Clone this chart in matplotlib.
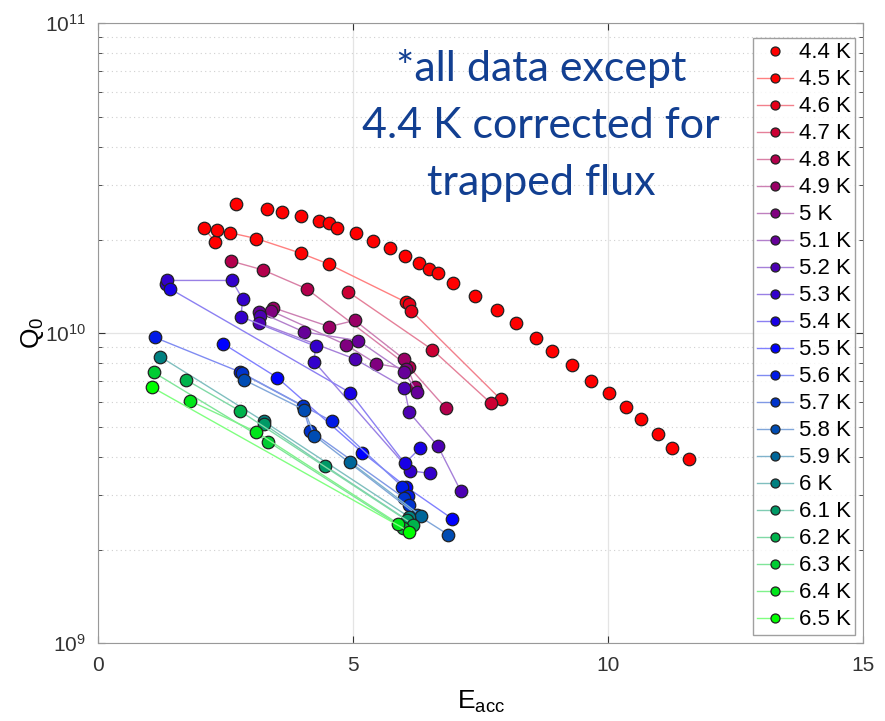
import matplotlib
matplotlib.use("Agg")
import matplotlib.pyplot as plt
import numpy as np

plt.rcParams['font.family'] = ['Liberation Sans', 'DejaVu Sans']

temps = [4.4, 4.5, 4.6, 4.7, 4.8, 4.9, 5.0, 5.1, 5.2, 5.3, 5.4,
         5.5, 5.6, 5.7, 5.8, 5.9, 6.0, 6.1, 6.2, 6.3, 6.4, 6.5]
labels = ['4.4 K', '4.5 K', '4.6 K', '4.7 K', '4.8 K', '4.9 K', '5 K', '5.1 K',
          '5.2 K', '5.3 K', '5.4 K', '5.5 K', '5.6 K', '5.7 K', '5.8 K', '5.9 K',
          '6 K', '6.1 K', '6.2 K', '6.3 K', '6.4 K', '6.5 K']

# 4.4 K (not flux corrected), markers only
E_44 = [2.71, 3.31, 3.61, 3.97, 4.33, 4.53, 4.68, 5.05, 5.39, 5.72, 6.01, 6.29, 6.49, 6.66,
        6.96, 7.39, 7.81, 8.20, 8.59, 8.90, 9.28, 9.66, 10.01, 10.35, 10.64, 10.98, 11.24, 11.59]
Q_44 = [2.61e10, 2.52e10, 2.46e10, 2.39e10, 2.31e10, 2.26e10, 2.19e10, 2.10e10, 1.99e10,
        1.88e10, 1.78e10, 1.69e10, 1.61e10, 1.56e10, 1.45e10, 1.32e10, 1.19e10, 1.08e10,
        9.67e9, 8.75e9, 7.90e9, 7.03e9, 6.40e9, 5.78e9, 5.28e9, 4.73e9, 4.27e9, 3.93e9]

E_45 = [2.07, 2.29, 2.33, 2.58, 3.10, 3.98, 4.52, 6.03]
Q_45 = [2.19e10, 1.97e10, 2.15e10, 2.11e10, 2.02e10, 1.81e10, 1.67e10, 1.26e10]
E_46 = [6.09, 6.14, 7.89]
Q_46 = [1.24e10, 1.18e10, 6.12e9]
E_47 = [4.90, 6.55, 7.70]
Q_47 = [1.36e10, 8.85e9, 5.94e9]
E_48 = [2.60, 3.23, 4.09, 6.09, 6.81]
Q_48 = [1.71e10, 1.60e10, 1.39e10, 7.80e9, 5.74e9]
E_49 = [3.42, 4.53, 5.03, 6.00, 6.21]
Q_49 = [1.21e10, 1.05e10, 1.10e10, 8.24e9, 6.73e9]
E_50 = [3.39, 4.86, 5.45, 6.03]
Q_50 = [1.18e10, 9.17e9, 7.98e9, 7.67e9]
E_51 = [3.16, 4.03, 5.10, 6.00, 6.25]
Q_51 = [1.17e10, 1.01e10, 9.46e9, 7.48e9, 6.48e9]
E_52 = [3.18, 3.16, 5.03, 6.00, 6.10, 6.66, 7.11]
Q_52 = [1.14e10, 1.08e10, 8.26e9, 6.68e9, 5.55e9, 4.32e9, 3.09e9]
E_53 = [1.33, 1.35, 2.62, 2.83, 2.80, 4.26, 4.23, 6.11, 6.50]
Q_53 = [1.44e10, 1.48e10, 1.48e10, 1.29e10, 1.13e10, 9.08e9, 8.10e9, 3.60e9, 3.53e9]
E_54 = [1.41, 4.94, 6.01, 6.31]
Q_54 = [1.39e10, 6.43e9, 3.80e9, 4.26e9]
E_55 = [2.45, 3.51, 5.18, 6.03, 6.94]
Q_55 = [9.25e9, 7.19e9, 4.12e9, 3.20e9, 2.52e9]
E_56 = [1.11, 2.77, 4.58, 5.96, 6.07]
Q_56 = [9.69e9, 7.51e9, 5.20e9, 3.20e9, 2.99e9]
E_57 = [2.81, 4.01, 4.15, 6.00, 6.09]
Q_57 = [7.43e9, 5.82e9, 4.85e9, 2.94e9, 2.79e9]
E_58 = [2.86, 4.04, 4.24, 6.24, 6.86]
Q_58 = [7.07e9, 5.66e9, 4.67e9, 2.60e9, 2.24e9]
E_59 = [4.93, 6.32]
Q_59 = [3.85e9, 2.58e9]
E_60 = [1.21, 3.25, 6.10]
Q_60 = [8.41e9, 5.19e9, 2.55e9]
E_61 = [3.25, 4.45, 6.05]
Q_61 = [5.09e9, 3.73e9, 2.50e9]
E_62 = [1.73, 2.78, 6.18]
Q_62 = [7.06e9, 5.61e9, 2.41e9]
E_63 = [1.09, 3.33, 5.98]
Q_63 = [7.47e9, 4.47e9, 2.35e9]
E_64 = [1.80, 3.09, 5.88]
Q_64 = [6.05e9, 4.81e9, 2.43e9]
E_65 = [1.05, 6.10]
Q_65 = [6.70e9, 2.29e9]

E_all = [E_44, E_45, E_46, E_47, E_48, E_49, E_50, E_51, E_52, E_53, E_54,
         E_55, E_56, E_57, E_58, E_59, E_60, E_61, E_62, E_63, E_64, E_65]
Q_all = [Q_44, Q_45, Q_46, Q_47, Q_48, Q_49, Q_50, Q_51, Q_52, Q_53, Q_54,
         Q_55, Q_56, Q_57, Q_58, Q_59, Q_60, Q_61, Q_62, Q_63, Q_64, Q_65]


def temp_color(t):
    # red -> blue between 4.5 and 5.5 K, blue -> green between 5.5 and 6.5 K
    if t <= 4.5:
        return (1.0, 0.0, 0.0)
    if t <= 5.5:
        f = t - 4.5
        return (1.0 - f, 0.0, f)
    f = min(t - 5.5, 1.0)
    return (0.0, f, 1.0 - f)


def lighten(c, amt=0.5):
    return tuple(x + (1 - x) * amt for x in c)


fig = plt.figure(figsize=(8.85, 7.21), dpi=100)
ax = fig.add_axes([0.111, 0.108, 0.8645, 0.8597])

for i, t in enumerate(temps):
    c = temp_color(t)
    if i == 0:
        ax.plot(E_all[i], Q_all[i], linestyle='none', marker='o', ms=9,
                mfc=c, mec='#222222', mew=0.9, label=labels[i], zorder=3)
    else:
        ax.plot(E_all[i], Q_all[i], '-', color=lighten(c, 0.5), lw=1.0, marker='o',
                ms=9, mfc=c, mec='#222222', mew=0.9, label=labels[i], zorder=3)

ax.set_yscale('log')
ax.set_xlim(0, 15)
ax.set_ylim(1e9, 1e11)
ax.set_xticks([0, 5, 10, 15])
ax.grid(True, which='major', color='#e4e4e4', lw=0.9, ls='-')
ax.grid(True, which='minor', axis='y', color='#d0d0d0', lw=0.8, ls=(0, (1, 3)))
ax.set_axisbelow(True)
ax.tick_params(which='both', direction='in', top=True, right=True, labelsize=15,
               colors='#333333', length=5, pad=9)
ax.tick_params(which='minor', length=3)
for s in ax.spines.values():
    s.set_color('#999999')

ax.set_xlabel('$\\mathregular{E_{acc}}$', fontsize=19, labelpad=10)
ax.set_ylabel('$\\mathregular{Q_0}$', fontsize=19, labelpad=-1)

ax.text(0.579, 0.835, '*all data except\n4.4 K corrected for\ntrapped flux',
        transform=ax.transAxes, ha='center', va='center', fontsize=31,
        color='#123f91', family='Lato', linespacing=1.6)

leg = ax.legend(loc='upper right', bbox_to_anchor=(855 / 885, 1 - 38 / 721),
                bbox_transform=fig.transFigure, borderaxespad=0,
                fontsize=16, handlelength=1.6, labelspacing=0.27, markerscale=0.72,
                frameon=True, fancybox=False, edgecolor='#888888',
                handletextpad=0.25, borderpad=0.2)
leg.get_frame().set_linewidth(1.0)

fig.savefig('out.png', dpi=100)
